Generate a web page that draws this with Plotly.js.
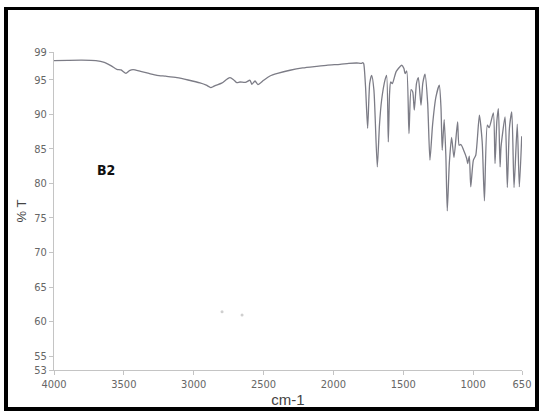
<!DOCTYPE html>
<html>
<head>
<meta charset="utf-8">
<script src="https://cdn.plot.ly/plotly-3.0.1.min.js"></script>
<style>
  html, body { margin: 0; padding: 0; background: #fff; }
  #wrap { position: relative; width: 539px; height: 413px; overflow: hidden; }
  #chart { position: absolute; left: 0; top: 0; width: 539px; height: 413px; }
  #frame { position: absolute; left: 4px; top: 7px; width: 535px; height: 404px;
           box-sizing: border-box; border: 4px solid #000; border-top-width: 3px;
           pointer-events: none; }
</style>
</head>
<body>
<div id="wrap">
  <div id="chart"></div>
  <div id="frame"></div>
</div>
<script>
// IR spectrum of sample B2: wavenumber (cm-1) vs transmittance (%T)
const wavenumber = [4000, 3900, 3800, 3700, 3640, 3590, 3550, 3520, 3485, 3460, 3434, 3380, 3320,
  3263, 3200, 3120, 3040, 2955, 2910, 2878, 2860, 2847, 2800, 2760, 2740, 2715, 2692, 2669, 2630,
  2597, 2583, 2561, 2540, 2500, 2454, 2400, 2311, 2220, 2120, 2040, 1953, 1890, 1833, 1800, 1790,
  1783, 1770, 1755, 1740, 1726, 1710, 1686, 1670, 1655, 1630, 1619, 1607, 1598, 1590, 1578, 1550,
  1511, 1495, 1487, 1475, 1459, 1444, 1432, 1421, 1405, 1392, 1373, 1360, 1344, 1325, 1309, 1290,
  1266, 1242, 1230, 1221, 1207, 1195, 1185, 1170, 1154, 1137, 1111, 1100, 1087, 1070, 1046, 1039,
  1027, 1017, 998, 981, 955, 935, 919, 898, 885, 855, 843, 830, 819, 807, 800, 771, 755, 740, 723,
  707, 684, 669, 652];
const transmittance = [97.76, 97.8, 97.82, 97.75, 97.5, 97.0, 96.5, 96.4, 95.9, 96.3, 96.46, 96.2, 95.9,
  95.63, 95.5, 95.3, 94.95, 94.52, 94.2, 93.86, 94.0, 94.14, 94.5, 95.1, 95.3, 95.0, 94.58, 94.66, 94.6,
  94.91, 94.33, 94.81, 94.29, 94.9, 95.53, 95.9, 96.36, 96.7, 96.93, 97.1, 97.22, 97.35, 97.41, 97.35, 97.47,
  97.3, 94.0, 87.96, 94.5, 95.63, 93.5, 82.38, 88.5, 92.02, 95.0, 95.63, 86.0, 93.0, 94.66, 94.43, 96.2,
  97.08, 96.6, 95.88, 96.25, 87.21, 93.57, 93.22, 90.58, 94.5, 95.3, 91.3, 94.5, 95.78, 91.5, 83.35, 88.5,
  92.5, 94.19, 91.0, 84.79, 89.23, 84.0, 76.02, 83.0, 86.63, 83.74, 88.88, 85.52, 85.62, 84.9, 83.6, 82.87,
  83.93, 79.49, 83.35, 84.07, 89.85, 86.0, 77.47, 88.41, 88.07, 90.18, 82.87, 89.0, 90.82, 82.38, 85.27,
  89.61, 79.4, 88.0, 90.33, 79.4, 88.55, 79.49, 86.82];

// two stray specks in the empty lower region
const speckX = [2797, 2654];
const speckY = [61.43, 60.95];

const xTicks = [4000, 3500, 3000, 2500, 2000, 1500, 1000, 650];
const yTicks = [53, 55, 60, 65, 70, 75, 80, 85, 90, 95, 99];

const tickFont = { family: '"Liberation Sans Narrow", "DejaVu Sans Condensed", Arial, sans-serif', size: 11, color: '#666' };

const traces = [
  {
    x: wavenumber, y: transmittance, type: 'scatter', mode: 'lines',
    line: { color: '#7c7c86', width: 1.3, shape: 'spline', smoothing: 0.6 },
    hoverinfo: 'x+y'
  },
  {
    x: speckX, y: speckY, type: 'scatter', mode: 'markers',
    marker: { color: '#cfcfcf', size: 3 }, hoverinfo: 'skip'
  }
];

const layout = {
  width: 539, height: 413,
  margin: { l: 53.5, r: 17, t: 51.7, b: 42.5 },
  paper_bgcolor: '#fff', plot_bgcolor: '#fff',
  showlegend: false,
  xaxis: {
    range: [4000, 650], tickvals: xTicks, ticktext: xTicks.map(String),
    showgrid: false, zeroline: false, showline: true, linecolor: '#c4c4c4', linewidth: 1,
    ticks: 'outside', ticklen: 4, tickcolor: '#c4c4c4', tickfont: tickFont,
    title: { text: 'cm-1', font: { family: 'Liberation Sans, Arial, sans-serif', size: 15, color: '#444' }, standoff: 2 }
  },
  yaxis: {
    range: [53, 99], tickvals: yTicks, ticktext: yTicks.map(String),
    showgrid: false, zeroline: false, showline: true, linecolor: '#c4c4c4', linewidth: 1,
    ticks: 'outside', ticklen: 4, tickcolor: '#c4c4c4', tickfont: tickFont,
    title: { text: '% T', font: { family: 'Liberation Sans, Arial, sans-serif', size: 13, color: '#444' }, standoff: 4 }
  },
  annotations: [
    { x: 3625, y: 81.9, xref: 'x', yref: 'y', text: '<b>B2</b>', showarrow: false,
      font: { family: '"Liberation Sans Narrow", "DejaVu Sans Condensed", Arial, sans-serif', size: 14, color: '#111' } }
  ]
};

Plotly.newPlot('chart', traces, layout, { displayModeBar: false, staticPlot: true });
</script>
</body>
</html>
